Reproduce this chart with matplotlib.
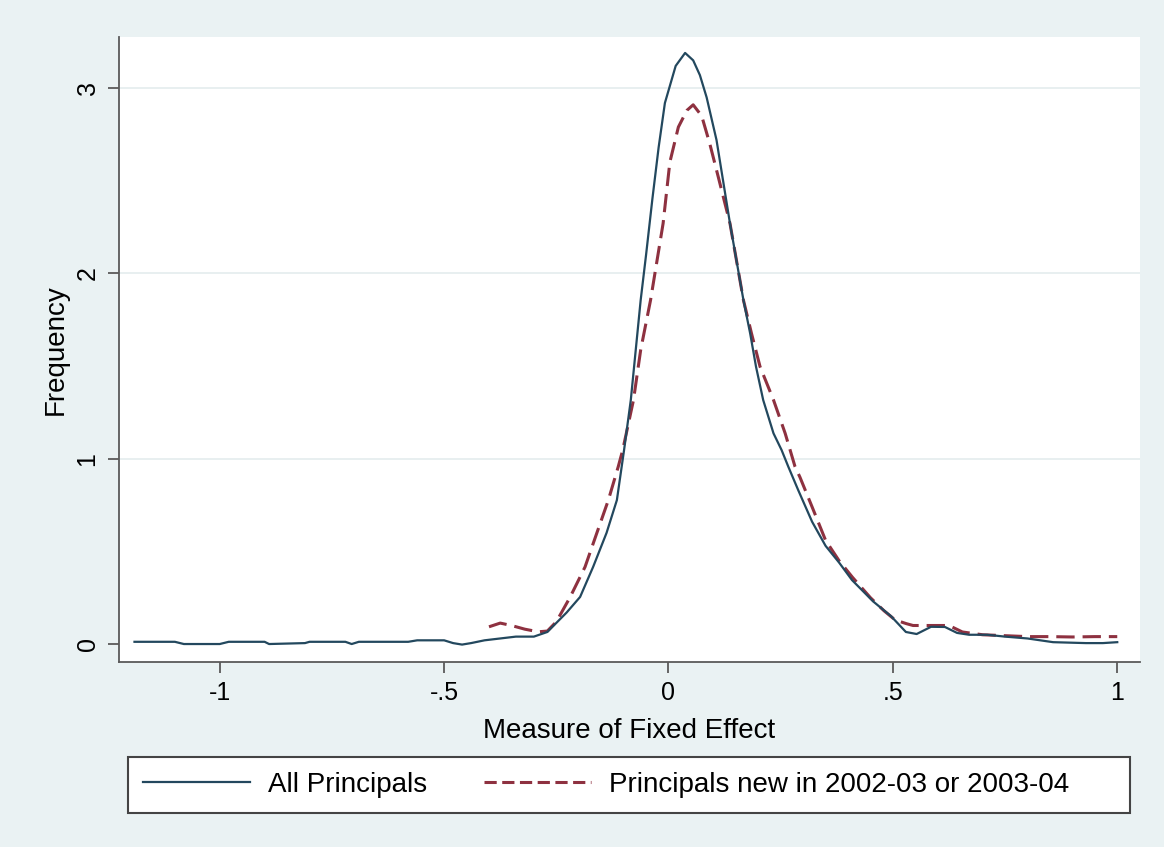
import matplotlib
matplotlib.use("Agg")
import matplotlib.pyplot as plt
from matplotlib.lines import Line2D
from matplotlib.patches import Rectangle

# ---- data ----
x_all = [-1.19, -1.10, -1.08, -1.0, -0.98, -0.90, -0.89, -0.81, -0.80, -0.72, -0.706, -0.69,
         -0.58, -0.56, -0.50, -0.48, -0.46, -0.44, -0.41, -0.375, -0.34, -0.30, -0.27, -0.227,
         -0.197, -0.168, -0.138, -0.115, -0.099, -0.084, -0.073, -0.062, -0.050, -0.036, -0.022,
         -0.008, 0.016, 0.037, 0.055, 0.070, 0.085, 0.107, 0.137, 0.167, 0.182, 0.195, 0.211,
         0.234, 0.252, 0.267, 0.289, 0.32, 0.35, 0.38, 0.409, 0.456, 0.496, 0.529, 0.553, 0.585,
         0.616, 0.643, 0.67, 0.71, 0.75, 0.80, 0.857, 0.93, 0.968, 1.0]
y_all = [0.012, 0.012, 0.0, 0.0, 0.012, 0.012, 0.0, 0.005, 0.012, 0.012, 0.0, 0.012,
         0.012, 0.02, 0.02, 0.005, -0.003, 0.005, 0.02, 0.03, 0.04, 0.04, 0.065, 0.17,
         0.254, 0.416, 0.60, 0.777, 1.047, 1.317, 1.587, 1.856, 2.1, 2.4, 2.68,
         2.92, 3.12, 3.19, 3.15, 3.07, 2.95, 2.72, 2.27, 1.856, 1.676, 1.497, 1.317,
         1.137, 1.047, 0.957, 0.831, 0.66, 0.53, 0.44, 0.345, 0.23, 0.15, 0.065, 0.054, 0.093,
         0.092, 0.06, 0.05, 0.05, 0.04, 0.03, 0.01, 0.005, 0.005, 0.01]

x_new = [-0.40, -0.375, -0.35, -0.32, -0.29, -0.27, -0.25, -0.219, -0.186, -0.160, -0.134,
         -0.112, -0.102, -0.078, -0.062, -0.040, -0.012, 0.003, 0.022, 0.041, 0.055, 0.074,
         0.092, 0.111, 0.137, 0.167, 0.185, 0.204, 0.219, 0.234, 0.26, 0.282, 0.293, 0.32,
         0.35, 0.38, 0.41, 0.45, 0.48, 0.505, 0.53, 0.545, 0.585, 0.625, 0.655, 0.7, 0.75,
         0.8, 0.85, 0.9, 0.95, 1.0]
y_new = [0.093, 0.113, 0.10, 0.08, 0.066, 0.07, 0.12, 0.254, 0.416, 0.597, 0.777,
         0.957, 1.047, 1.317, 1.587, 1.856, 2.27, 2.6, 2.79, 2.88, 2.91, 2.85,
         2.70, 2.52, 2.27, 1.856, 1.676, 1.497, 1.407, 1.317, 1.137, 0.957, 0.90, 0.74,
         0.56, 0.45, 0.36, 0.25, 0.18, 0.13, 0.11, 0.10, 0.10, 0.10, 0.065, 0.05, 0.045,
         0.04, 0.04, 0.038, 0.04, 0.04]

x_ticks = [-1, -0.5, 0, 0.5, 1]
x_tick_labels = ["-1", "-.5", "0", ".5", "1"]
y_ticks = [0, 1, 2, 3]
y_tick_labels = ["0", "1", "2", "3"]

label_all = "All Principals"
label_new = "Principals new in 2002-03 or 2003-04"
x_label = "Measure of Fixed Effect"
y_label = "Frequency"

# ---- style ----
plt.rcParams['font.family'] = ['Liberation Sans', 'DejaVu Sans']
BG = "#EAF2F3"
C_ALL = "#23485E"
C_NEW = "#8E3140"
AX_C = "#5a5a5a"

fig = plt.figure(figsize=(11.64, 8.47), dpi=100, facecolor=BG)
ax = fig.add_axes([119/1164, 1-662/847, (1140-119)/1164, (662-37)/847])
ax.set_facecolor("white")

ax.set_xlim(-1.2245, 1.0507)
ax.set_ylim(-0.097, 3.276)

for t in y_ticks[1:]:
    ax.axhline(t, color="#E8EFF0", lw=1.4, zorder=0)

ax.plot(x_all, y_all, color=C_ALL, lw=1.6, label=label_all, zorder=3)
ax.plot(x_new, y_new, color=C_NEW, lw=2.2, dashes=(6, 2.6), label=label_new, zorder=2)

for s in ["top", "right"]:
    ax.spines[s].set_visible(False)
for s in ["left", "bottom"]:
    ax.spines[s].set_color(AX_C)
    ax.spines[s].set_linewidth(1.3)

ax.set_xticks(x_ticks)
ax.set_xticklabels(x_tick_labels, fontsize=18)
ax.set_yticks(y_ticks)
ax.set_yticklabels(y_tick_labels, fontsize=18, rotation=90, va="center")
ax.tick_params(axis="both", direction="out", length=8, width=1.3, color=AX_C, pad=6)

ax.set_xlabel(x_label, fontsize=20, labelpad=9)
ax.set_ylabel(y_label, fontsize=20, labelpad=5)

# legend frame
fig.patches.append(Rectangle((128/1164, 1-813/847), (1130-128)/1164, (813-757)/847,
                             transform=fig.transFigure, facecolor="white",
                             edgecolor="#444444", lw=1.5, zorder=1))

handles = [Line2D([], [], color=C_ALL, lw=1.6),
           Line2D([], [], color=C_NEW, lw=2.2, dashes=(4, 1.8))]
leg = fig.legend(handles, [label_all, label_new], loc="center left",
                 bbox_to_anchor=(143/1164, 1-785/847),
                 ncol=2, fontsize=20, frameon=False,
                 handlelength=3.85, handletextpad=0.65, columnspacing=2.05,
                 borderaxespad=0, borderpad=0)
leg.set_zorder(2)

fig.savefig("out.png", dpi=100, facecolor=BG)
